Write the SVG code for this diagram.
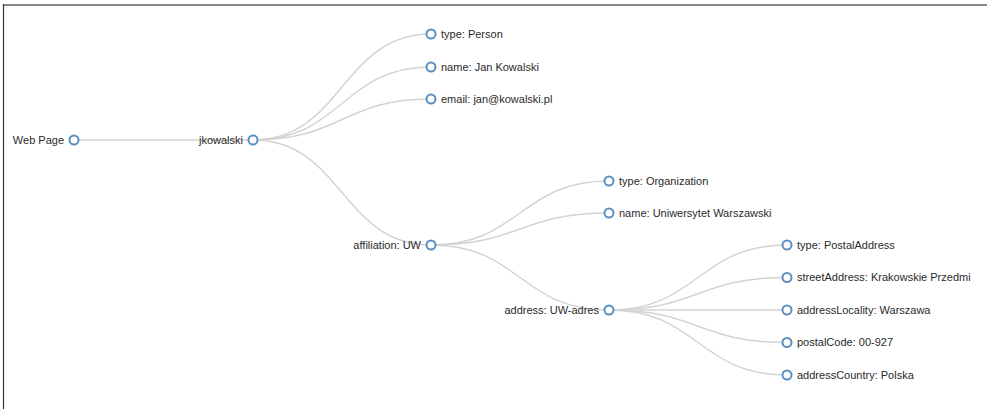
<svg xmlns="http://www.w3.org/2000/svg" width="987" height="409" viewBox="0 0 987 409">
<style>
.link{fill:none;stroke:#d3d3d3;stroke-width:1.5px}
.node circle{fill:#fff;stroke:#5b8fc0;stroke-width:2px}
.node text{font-family:"Liberation Sans",Arial,sans-serif;font-size:11px;fill:#2a2a2a}
.s{text-anchor:start}
.e{text-anchor:end}
</style>
<rect x="0" y="0" width="987" height="409" fill="#fff"/>
<line x1="3" y1="5" x2="987" y2="5" stroke="#8a8a8a" stroke-width="2"/>
<line x1="3.5" y1="4" x2="3.5" y2="409" stroke="#333" stroke-width="1.2"/>
<g id="connectors">
<path class="link" d="M74,140 C163.5,140 163.5,140 253,140"/>
<path class="link" d="M253,140 C342,140 342,34 431,34"/>
<path class="link" d="M253,140 C342,140 342,67 431,67"/>
<path class="link" d="M253,140 C342,140 342,99 431,99"/>
<path class="link" d="M253,140 C342,140 342,245 431,245"/>
<path class="link" d="M431,245 C520,245 520,181 609,181"/>
<path class="link" d="M431,245 C520,245 520,213 609,213"/>
<path class="link" d="M431,245 C520,245 520,310 609,310"/>
<path class="link" d="M609,310 C698,310 698,245 787,245"/>
<path class="link" d="M609,310 C698,310 698,277.5 787,277.5"/>
<path class="link" d="M609,310 C698,310 698,310 787,310"/>
<path class="link" d="M609,310 C698,310 698,342.5 787,342.5"/>
<path class="link" d="M609,310 C698,310 698,375 787,375"/>
</g>
<g id="n-webpage" class="node" transform="translate(74,140)"><circle r="4.5"/><text class="e" x="-10" dy=".35em">Web Page</text></g>
<g id="n-jkowalski" class="node" transform="translate(253,140)"><circle r="4.5"/><text class="e" x="-10" dy=".35em">jkowalski</text></g>
<g id="n-type-person" class="node" transform="translate(431,34)"><circle r="4.5"/><text class="s" x="10" dy=".35em">type: Person</text></g>
<g id="n-name-jan" class="node" transform="translate(431,67)"><circle r="4.5"/><text class="s" x="10" dy=".35em">name: Jan Kowalski</text></g>
<g id="n-email" class="node" transform="translate(431,99)"><circle r="4.5"/><text class="s" x="10" dy=".35em">email: jan@kowalski.pl</text></g>
<g id="n-affiliation" class="node" transform="translate(431,245)"><circle r="4.5"/><text class="e" x="-10" dy=".35em">affiliation: UW</text></g>
<g id="n-type-org" class="node" transform="translate(609,181)"><circle r="4.5"/><text class="s" x="10" dy=".35em">type: Organization</text></g>
<g id="n-name-uw" class="node" transform="translate(609,213)"><circle r="4.5"/><text class="s" x="10" dy=".35em">name: Uniwersytet Warszawski</text></g>
<g id="n-address" class="node" transform="translate(609,310)"><circle r="4.5"/><text class="e" x="-10" dy=".35em">address: UW-adres</text></g>
<g id="n-type-postal" class="node" transform="translate(787,245)"><circle r="4.5"/><text class="s" x="10" dy=".35em">type: PostalAddress</text></g>
<g id="n-street" class="node" transform="translate(787,277.5)"><circle r="4.5"/><text class="s" x="10" dy=".35em">streetAddress: Krakowskie Przedmi</text></g>
<g id="n-locality" class="node" transform="translate(787,310)"><circle r="4.5"/><text class="s" x="10" dy=".35em">addressLocality: Warszawa</text></g>
<g id="n-postal" class="node" transform="translate(787,342.5)"><circle r="4.5"/><text class="s" x="10" dy=".35em">postalCode: 00-927</text></g>
<g id="n-country" class="node" transform="translate(787,375)"><circle r="4.5"/><text class="s" x="10" dy=".35em">addressCountry: Polska</text></g>
</svg>
